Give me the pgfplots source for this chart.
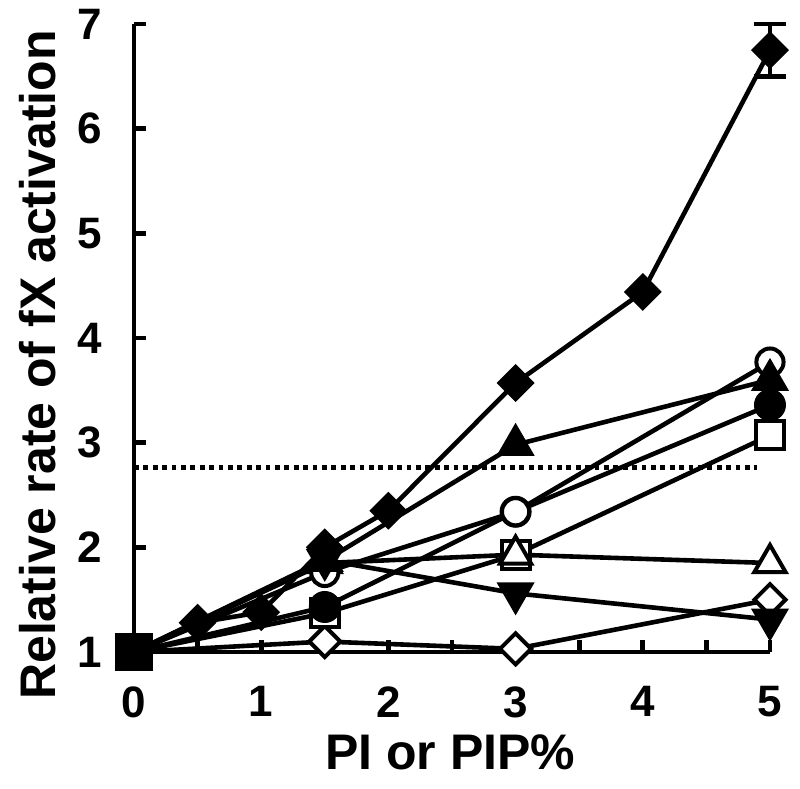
\documentclass[border=0pt]{standalone}
\usepackage{fontspec}
\setmainfont{Liberation Sans}
\usepackage{pgfplots}
\pgfplotsset{compat=1.18}
\usepackage{pgfplotstable}
\pgfplotstableread{
x y
0 1
0.5 1.28
1 1.38
1.5 2.0
2 2.35
3 3.57
4 4.44
5 6.75
}\dataA
\pgfplotstableread{
x y
0 1
1.5 1.87
3 2.98
5 3.60
}\dataB
\pgfplotstableread{
x y
0 1
1.5 1.76
3 2.34
5 3.77
}\dataC
\pgfplotstableread{
x y
0 1
1.5 1.43
3 2.34
5 3.36
}\dataD
\pgfplotstableread{
x y
0 1
1.5 1.37
3 1.93
5 3.07
}\dataE
\pgfplotstableread{
x y
0 1
1.5 1.85
3 1.93
5 1.85
}\dataF
\pgfplotstableread{
x y
0 1
1.5 1.88
3 1.56
5 1.31
}\dataG
\pgfplotstableread{
x y
0 1
1.5 1.10
3 1.03
5 1.50
}\dataH
\begin{document}
\begin{tikzpicture}
\begin{axis}[name=ax, scale only axis, width=318pt, height=314pt,
  xmin=0, xmax=5, ymin=1, ymax=7,
  axis lines*=left, clip=false,
  axis line style={line width=2.4pt},
  xtick={0,...,5}, minor xtick={0.5,1.5,2.5,3.5,4.5}, ytick={1,...,7},
  tick align=inside, major tick length=6pt, minor tick length=6pt,
  tick style={line width=2.4pt, black},
  /pgf/number format/assume math mode=true,
  tick label style={font=\fontsize{22}{26}\selectfont\bfseries, inner sep=0pt},
  xticklabel style={anchor=north, yshift=-17pt},
  yticklabel style={anchor=east, xshift=-16pt},
  xlabel={PI or PIP\%},
  ylabel={Relative rate of fX activation},
  label style={font=\fontsize{25}{28}\selectfont\bfseries},
  xlabel style={at={(axis description cs:0.497,-0.159)}, anchor=center},
  ylabel style={at={(axis description cs:-0.151,0.457)}, anchor=center, rotate=0},
  every axis plot/.append style={line width=2.3pt, black},
]
% dotted reference line
\addplot[line width=2.5pt, dash pattern=on 2.4pt off 2.3pt] coordinates {(0,2.76) (4.9,2.76)};
% error bar
\addplot[draw=none, error bars/.cd, y dir=both, y explicit,
  error bar style={line width=2.3pt, black},
  error mark options={rotate=90, line width=2.3pt, mark size=8pt, black}]
  coordinates {(5,6.75) +- (0,0.25)};
% lines
\addplot[no markers] table {\dataH};
\addplot[no markers] table {\dataG};
\addplot[no markers] table {\dataF};
\addplot[no markers] table {\dataE};
\addplot[no markers] table {\dataD};
\addplot[no markers] table {\dataC};
\addplot[no markers] table {\dataB};
\addplot[no markers] table {\dataA};
% markers
\addplot[only marks, mark phase=2, mark=square*, mark size=5.5pt, mark options={rotate=45, fill=white, draw=black, line width=2pt}] table {\dataH};
\addplot[only marks, mark phase=2, mark=square*, mark size=7pt, mark options={fill=white, draw=black, line width=2pt}] table {\dataE};
\addplot[only marks, mark phase=2, mark=triangle*, mark size=9pt, mark options={fill=white, draw=black, line width=2pt}] table {\dataF};
\addplot[only marks, mark phase=2, mark=*, mark size=7.5pt, mark options={fill=black, draw=black, line width=1pt}] table {\dataD};
\addplot[only marks, mark phase=2, mark=*, mark size=6.8pt, mark options={fill=white, draw=black, line width=2pt}] table {\dataC};
\addplot[only marks, mark phase=2, mark=triangle*, mark size=9pt, mark options={rotate=180, fill=black, draw=black, line width=2pt}] table {\dataG};
\addplot[only marks, mark phase=2, mark=triangle*, mark size=9pt, mark options={fill=black, draw=black, line width=2pt}] table {\dataB};
\addplot[only marks, mark phase=2, mark=square*, mark size=5.7pt, mark options={rotate=45, fill=black, draw=black, line width=2pt}] table {\dataA};
\addplot[only marks, mark=square*, mark size=8.3pt, mark options={fill=black, draw=black, line width=2pt}] coordinates {(0,1)};
\end{axis}
\pgfresetboundingbox
\path (ax.south west) ++(-67pt,-68.5pt) rectangle ++(400pt,394.5pt);
\end{tikzpicture}
\end{document}
